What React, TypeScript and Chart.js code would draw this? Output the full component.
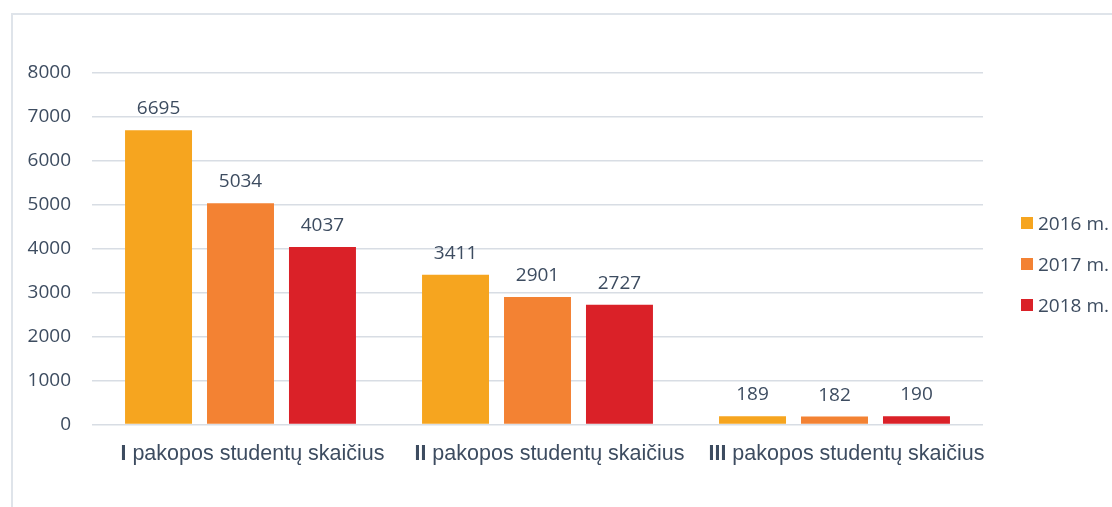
import React, { useEffect, useRef } from "react";
import { Chart, registerables } from "chart.js";

Chart.register(...registerables);

const categories = ["I pakopos studentų skaičius", "II pakopos studentų skaičius", "III pakopos studentų skaičius"];
const romanParts = ["I", "II", "III"];
const seriesNames = ["2016 m.", "2017 m.", "2018 m."];
const values2016 = [6695, 3411, 189];
const values2017 = [5034, 2901, 182];
const values2018 = [4037, 2727, 190];
const seriesColors = ["#F6A51F", "#F38233", "#DA2128"];
const yTicks = [0, 1000, 2000, 3000, 4000, 5000, 6000, 7000, 8000];

const TEXT = "#3D4C60";
const NUM_FONT = "19px 'Open Sans'";

const overlayPlugin = {
  id: "overlay",
  afterDatasetsDraw(chart: any) {
    const ctx = chart.ctx;
    ctx.save();
    // data labels
    ctx.fillStyle = TEXT;
    ctx.font = NUM_FONT;
    ctx.textAlign = "center";
    ctx.textBaseline = "alphabetic";
    chart.data.datasets.forEach((ds: any, di: number) => {
      const meta = chart.getDatasetMeta(di);
      meta.data.forEach((bar: any, i: number) => {
        ctx.fillText(String(ds.data[i]), bar.x, bar.y - 16);
      });
    });
    // category labels
    const xs = chart.scales.x;
    categories.forEach((cat, i) => {
      const cx = xs.getPixelForValue(i) + 12;
      const roman = romanParts[i];
      const rest = cat.slice(roman.length);
      ctx.font = "bold 21.5px 'Liberation Sans'";
      const wr = ctx.measureText(roman).width;
      ctx.font = "21.5px 'Liberation Sans'";
      const wt = ctx.measureText(rest).width;
      const left = cx - (wr + wt) / 2;
      ctx.textAlign = "left";
      ctx.font = "bold 21.5px 'Liberation Sans'";
      ctx.fillText(roman, left, 460);
      ctx.font = "21.5px 'Liberation Sans'";
      ctx.fillText(rest, left + wr, 460);
    });
    // legend
    chart.data.datasets.forEach((ds: any, di: number) => {
      const cy = 223 + di * 41;
      ctx.fillStyle = ds.backgroundColor;
      ctx.fillRect(1021, cy - 6, 12, 12);
      ctx.fillStyle = TEXT;
      ctx.font = NUM_FONT;
      ctx.textAlign = "left";
      ctx.fillText(ds.label, 1038, cy + 7);
    });
    ctx.restore();
  },
};

export default function App() {
  const ref = useRef<HTMLCanvasElement | null>(null);
  useEffect(() => {
    if (!ref.current) return;
    const seriesValues = [values2016, values2017, values2018];
    const chart = new Chart(ref.current, {
      type: "bar",
      data: {
        labels: categories,
        datasets: seriesNames.map((name, i) => ({
          label: name,
          data: seriesValues[i],
          backgroundColor: seriesColors[i],
          borderWidth: 0,
          barPercentage: 0.817,
          categoryPercentage: 0.828,
        })),
      },
      options: {
        animation: false,
        responsive: true,
        maintainAspectRatio: false,
        layout: { padding: { top: 73, left: 0, right: 129, bottom: 0 } },
        plugins: { legend: { display: false }, tooltip: { enabled: false } },
        scales: {
          x: {
            grid: { display: false },
            border: { display: false },
            ticks: { display: false },
            afterFit: (s: any) => {
              s.height = 82.5;
            },
          },
          y: {
            min: 0,
            max: 8000,
            border: { display: false },
            grid: { color: "#D8DDE4", lineWidth: 1.5, drawTicks: false },
            ticks: {
              stepSize: 1000,
              padding: 21,
              color: TEXT,
              font: { family: "'Open Sans'", size: 19 },
              callback: (v: any) => (yTicks.includes(Number(v)) ? String(v) : ""),
            },
            afterFit: (s: any) => {
              s.width = 92;
            },
          },
        },
      },
      plugins: [overlayPlugin],
    });
    return () => chart.destroy();
  }, []);
  return (
    <div style={{ position: "fixed", left: 0, top: 0, width: 1112, height: 507, background: "#fff", overflow: "hidden" }}>
      <div
        style={{
          position: "absolute",
          left: 11,
          top: 13,
          width: 1200,
          height: 600,
          border: "2px solid #DFE4EA",
          boxSizing: "border-box",
        }}
      />
      <div style={{ position: "absolute", left: 0, top: 0, width: 1112, height: 507 }}>
        <canvas ref={ref} />
      </div>
    </div>
  );
}
